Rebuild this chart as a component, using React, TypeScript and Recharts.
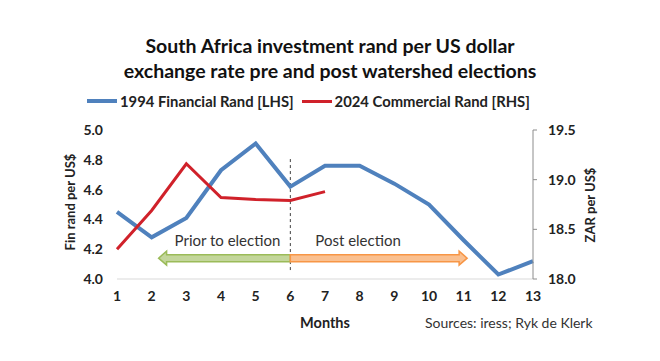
import { LineChart, Line, XAxis, YAxis, ReferenceLine } from "recharts";

const months = [1, 2, 3, 4, 5, 6, 7, 8, 9, 10, 11, 12, 13];
const finRand1994 = [4.45, 4.28, 4.41, 4.73, 4.91, 4.62, 4.76, 4.76, 4.64, 4.5, 4.26, 4.03, 4.12];
const comRand2024 = [18.3, 18.69, 19.16, 18.82, 18.8, 18.79, 18.88];
const leftTicks = [4.0, 4.2, 4.4, 4.6, 4.8, 5.0];
const rightTicks = [18.0, 18.5, 19.0, 19.5];

const titleLines = [
  "South Africa investment rand per US dollar",
  "exchange rate pre and post watershed elections",
];
const finName = "1994 Financial Rand [LHS]";
const comName = "2024 Commercial Rand [RHS]";
const electionMonth = 6;

const data = months.map((m, i) => ({
  month: m,
  fin: finRand1994[i],
  com: i < comRand2024.length ? comRand2024[i] : null,
}));

const BLUE = "#4f81bd";
const RED = "#d0212a";
const FONT = "Lato, 'Open Sans', sans-serif";

// hollow block arrow, tail at x1, head at x2
const arrowShape = (fill: string, stroke: string, text: string, textDx: number, anchor: string) =>
  (props: any) => {
    const { x1, x2, y1 } = props;
    const y = y1;
    const d = x2 > x1 ? 1 : -1;
    const h = 3.5;
    const H = 7;
    const L = 8;
    const pts = [
      [x1, y - h],
      [x2 - d * L, y - h],
      [x2 - d * L, y - H],
      [x2, y],
      [x2 - d * L, y + H],
      [x2 - d * L, y + h],
      [x1, y + h],
    ]
      .map((p) => p.join(","))
      .join(" ");
    return (
      <g>
        <polygon points={pts} fill={fill} stroke={stroke} strokeWidth={1.5} />
        <text
          x={x1 + textDx}
          y={y - 12}
          textAnchor={anchor}
          fontSize={15}
          fontFamily={FONT}
          fill="#333"
        >
          {text}
        </text>
      </g>
    );
  };

const tickStyle = { fontSize: 14, fontWeight: 700, fill: "#222", fontFamily: FONT };

export default function App() {
  return (
    <div style={{ position: "absolute", left: 0, top: 0, width: 660, height: 361, background: "#fff", fontFamily: FONT }}>
      <div style={{ position: "absolute", top: 33, width: 660, textAlign: "center", fontSize: 19.5, fontWeight: 700, lineHeight: "25px", color: "#111" }}>
        {titleLines.map((t) => (
          <div key={t}>{t}</div>
        ))}
      </div>
      <div style={{ position: "absolute", top: 92, left: 87, display: "flex", alignItems: "center", fontSize: 14.8, fontWeight: 700, color: "#222", whiteSpace: "nowrap" }}>
        <span style={{ display: "inline-block", width: 30, height: 4, background: BLUE, marginRight: 3 }} />
        <span>{finName}</span>
        <span style={{ display: "inline-block", width: 30, height: 3, background: RED, marginLeft: 8, marginRight: 3 }} />
        <span>{comName}</span>
      </div>
      <div style={{ position: "absolute", top: 314, left: 425, fontSize: 14, color: "#333" }}>
        Sources: iress; Ryk de Klerk
      </div>
      <div style={{ position: "absolute", left: 0, top: 0 }}>
        <LineChart width={660} height={361} data={data} margin={{ top: 130, right: 67, bottom: 52, left: 67 }}>
          <XAxis
            dataKey="month"
            type="number"
            domain={[1, 13]}
            ticks={months}
            height={30}
            axisLine={{ stroke: "#d9d9d9" }}
            tickLine={false}
            tickMargin={6}
            tick={tickStyle}
            label={({ viewBox }: any) => (
              <text x={viewBox.x + viewBox.width / 2} y={328} textAnchor="middle" fontSize={14.5} fontWeight={700} fontFamily={FONT} fill="#222">
                Months
              </text>
            )}
          />
          <YAxis
            yAxisId="left"
            domain={[4, 5]}
            ticks={leftTicks}
            width={50}
            axisLine={false}
            tickLine={false}
            tickMargin={8}
            tick={tickStyle}
            tickFormatter={(v: number) => v.toFixed(1)}
            label={({ viewBox }: any) => (
              <text x={viewBox.x + 8} y={202} transform={`rotate(-90, ${viewBox.x + 8}, 202)`} textAnchor="middle" fontSize={13} fontWeight={700} fontFamily={FONT} fill="#222">
                Fin rand per US$
              </text>
            )}
          />
          <YAxis
            yAxisId="right"
            orientation="right"
            domain={[18, 19.5]}
            ticks={rightTicks}
            width={60}
            axisLine={{ stroke: "#8c8c8c" }}
            tickLine={{ stroke: "#8c8c8c" }}
            tickSize={4}
            tickMargin={11}
            tick={tickStyle}
            tickFormatter={(v: number) => v.toFixed(1)}
            label={({ viewBox }: any) => (
              <text x={viewBox.x + 62} y={205} transform={`rotate(-90, ${viewBox.x + 62}, 205)`} textAnchor="middle" fontSize={13} fontWeight={700} fontFamily={FONT} fill="#222">
                ZAR per US$
              </text>
            )}
          />
          <ReferenceLine
            yAxisId="left"
            segment={[
              { x: electionMonth, y: 4.06 },
              { x: electionMonth, y: 4.81 },
            ]}
            stroke="#404040"
            strokeDasharray="3 3"
            strokeWidth={1}
          />
          <ReferenceLine
            yAxisId="left"
            segment={[
              { x: electionMonth, y: 4.14 },
              { x: 2.2, y: 4.14 },
            ]}
            shape={arrowShape("#c3d69b", "#9bbb59", "Prior to election", -10, "end")}
          />
          <ReferenceLine
            yAxisId="left"
            segment={[
              { x: electionMonth, y: 4.14 },
              { x: 11.1, y: 4.14 },
            ]}
            shape={arrowShape("#fac090", "#f79646", "Post election", 25, "start")}
          />
          <Line yAxisId="left" dataKey="fin" name={finName} stroke={BLUE} strokeWidth={4} dot={false} isAnimationActive={false} />
          <Line yAxisId="right" dataKey="com" name={comName} stroke={RED} strokeWidth={3} dot={false} isAnimationActive={false} />
        </LineChart>
      </div>
    </div>
  );
}
